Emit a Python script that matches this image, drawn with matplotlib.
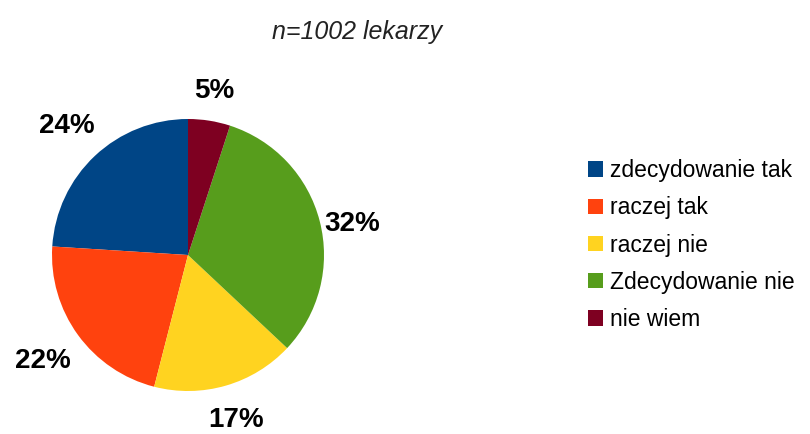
import numpy as np
import matplotlib.pyplot as plt
from matplotlib.patches import Patch

plt.rcParams['font.family'] = ['Liberation Sans', 'DejaVu Sans']

labels = ['zdecydowanie tak', 'raczej tak', 'raczej nie', 'Zdecydowanie nie', 'nie wiem']
values = [24, 22, 17, 32, 5]
colors = ['#004586', '#ff420e', '#ffd320', '#579d1c', '#7e0021']
title = 'n=1002 lekarzy'

fig = plt.figure(figsize=(8.1, 4.34), dpi=100)
ax = fig.add_axes([52 / 810, 43 / 434, 272 / 810, 272 / 434])

wedges, _ = ax.pie(values, colors=colors, startangle=90, counterclock=True, radius=1)
ax.set_xlim(-1, 1)
ax.set_ylim(-1, 1)
ax.set_aspect('equal')

# percentage labels outside the slices
label_dist = [1.30, 1.32, 1.26, 1.25, 1.22]
for w, v, d in zip(wedges, values, label_dist):
    ang = np.deg2rad((w.theta1 + w.theta2) / 2)
    dy = -0.08 if abs(np.cos(ang)) > 0.9 else 0
    ax.text(d * np.cos(ang), d * np.sin(ang) + dy, f'{v}%',
            ha='center', va='center', fontsize=20, fontweight='bold', color='black')

fig.text(357 / 810, 1 - 32 / 434, title, ha='center', va='center', fontsize=18,
         style='italic', color='#222222')

handles = [Patch(facecolor=c, edgecolor='none') for c in colors]
fig.legend(handles, labels, loc='center left', bbox_to_anchor=(579 / 810, 1 - 245 / 434),
           frameon=False, fontsize=16.5, handlelength=0.65, handleheight=0.65,
           handletextpad=0.3, labelspacing=0.62, borderaxespad=0)

plt.savefig('out.png', dpi=100)
